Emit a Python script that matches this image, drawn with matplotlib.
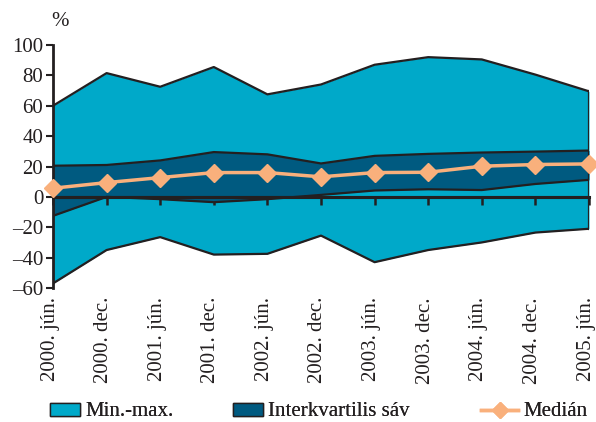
import matplotlib
matplotlib.use("Agg")
import matplotlib.pyplot as plt
from matplotlib.patches import Patch
from matplotlib.lines import Line2D
import matplotlib.transforms as mtransforms

categories = ["2000. jún.", "2000. dec.", "2001. jún.", "2001. dec.", "2002. jún.",
              "2002. dec.", "2003. jún.", "2003. dec.", "2004. jún.", "2004. dec.",
              "2005. jún."]
max_vals = [60, 81.5, 72.5, 85.5, 67.5, 74, 87, 92, 90.5, 80.5, 69.5]
q3_vals = [20.5, 21, 24, 29.5, 28, 22, 27, 28.3, 29.2, 29.8, 30.5]
median_vals = [5.7, 9.4, 12.7, 16, 16, 13.2, 16, 16.2, 20.2, 21.3, 21.7]
q1_vals = [-12.5, 0, -1.5, -3.5, -1.5, 1.3, 4.2, 5, 4.5, 8.5, 11.2]
min_vals = [-57, -35, -26.5, -38, -37.5, -25.5, -43, -35, -30, -23.5, -21]
yticks = [-60, -40, -20, 0, 20, 40, 60, 80, 100]

light = "#00A9C9"
dark = "#005A80"
orange = "#F9B07C"
ink = "#231F20"

plt.rcParams['font.family'] = ['Liberation Serif', 'DejaVu Serif']
FS = 15

W, H = 596, 422
fig = plt.figure(figsize=(W / 100, H / 100), dpi=100)
ax = fig.add_axes([53 / W, (H - 288) / H, (589 - 53) / W, (288 - 45) / H])

x = list(range(len(categories)))
ax.fill_between(x, min_vals, max_vals, color=light, lw=0, zorder=1)
ax.fill_between(x, q1_vals, q3_vals, color=dark, lw=0, zorder=2)
for vals in (max_vals, min_vals):
    ax.plot(x, vals, color=ink, lw=1.6, zorder=3)
ax.plot([x[-1], x[-1]], [min_vals[-1], max_vals[-1]], color=ink, lw=1.6, zorder=3)
ax.plot([x[0], x[0]], [min_vals[0], max_vals[0]], color=ink, lw=1.6, zorder=3)
for vals in (q3_vals, q1_vals):
    ax.plot(x, vals, color=ink, lw=1.6, zorder=4)
ax.axhline(0, color=ink, lw=2.2, zorder=5)
ax.plot(x, median_vals, color=orange, lw=2.5, marker='D', ms=9, mec=orange,
        mfc=orange, zorder=6, clip_on=False)

ax.set_xlim(0, 10)
ax.set_ylim(-60, 100)
ax.set_yticks(yticks)
ax.set_yticklabels([str(v).replace('-', '\u2013') for v in yticks], fontsize=FS, color=ink)
ax.tick_params(axis='y', direction='out', length=5, width=1.5, color=ink, pad=2)

for s in ('top', 'right'):
    ax.spines[s].set_visible(False)
ax.spines['left'].set_linewidth(2)
ax.spines['left'].set_color(ink)
ax.spines['bottom'].set_position(('data', 0))
ax.spines['bottom'].set_linewidth(2.2)
ax.spines['bottom'].set_color(ink)
ax.spines['bottom'].set_zorder(5)
ax.set_xticks(x)
ax.set_xticklabels([])
ax.tick_params(axis='x', direction='out', length=6, width=1.8, color=ink)

trans = mtransforms.blended_transform_factory(ax.transData, fig.transFigure)
trans = trans + mtransforms.ScaledTranslation(-3 / 100, 0, fig.dpi_scale_trans)
for i, lab in enumerate(categories):
    ax.text(i, 1 - 297 / H, lab, rotation=90, ha='center', va='top', fontsize=FS,
            color=ink, transform=trans)

fig.text(60 / W, 1 - 22 / H, "%", fontsize=FS, color=ink, ha='center', va='center')

entries = [
    (Patch(facecolor=light, edgecolor=ink, lw=1), "Min.-max.", 50, 1.44),
    (Patch(facecolor=dark, edgecolor=ink, lw=1), "Interkvartilis sáv", 233, 1.44),
    (Line2D([0], [0], color=orange, lw=2.5, marker='D', ms=8), "Medián", 481, 1.78),
]
for h, lab, xpix, hl in entries:
    leg = fig.legend([h], [lab], loc='center left', bbox_to_anchor=(xpix / W, 1 - 412 / H),
                     frameon=False, fontsize=FS, handlelength=hl, handleheight=0.6,
                     handletextpad=0.25, borderpad=0, borderaxespad=0, labelcolor=ink)
    fig.add_artist(leg)

fig.savefig("out.png", dpi=100)
